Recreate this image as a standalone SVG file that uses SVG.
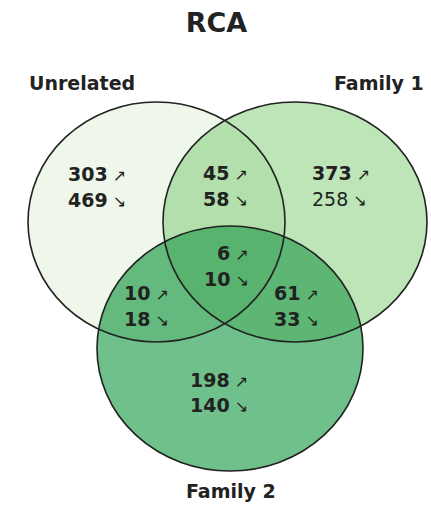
<svg xmlns="http://www.w3.org/2000/svg" width="431" height="507" viewBox="0 0 431 507">
<style>
.t{font-family:"DejaVu Sans","Liberation Sans",sans-serif;font-weight:bold;fill:#222}
.n{font-family:"DejaVu Sans","Liberation Sans",sans-serif;font-weight:bold;font-size:19px;fill:#222}
.ar{font-weight:normal;font-size:16px}
.nb{font-weight:normal}
.edge{fill:none;stroke:#222;stroke-width:1.6}
</style>
<defs>
<ellipse id="eU" cx="156.5" cy="222" rx="128.5" ry="120"/>
<ellipse id="eF1" cx="295" cy="222" rx="132" ry="120"/>
<ellipse id="eF2" cx="230" cy="348.5" rx="133" ry="122.5"/>
<clipPath id="cU"><use href="#eU"/></clipPath>
<clipPath id="cF1"><use href="#eF1"/></clipPath>
<clipPath id="cUF1" clip-path="url(#cU)"><use href="#eF1"/></clipPath>
</defs>
<rect width="431" height="507" fill="#fff"/>
<g id="fills">
<use href="#eU" fill="#eef7e9"/>
<use href="#eF1" fill="#bde5b8"/>
<use href="#eF1" fill="#b2dfab" clip-path="url(#cU)"/>
<use href="#eF2" fill="#6fc08a"/>
<use href="#eF2" fill="#64b97e" clip-path="url(#cU)"/>
<use href="#eF2" fill="#5db674" clip-path="url(#cF1)"/>
<use href="#eF2" fill="#57b36d" clip-path="url(#cUF1)"/>
</g>
<g id="connectors"></g>
<g id="unrelated">
<use href="#eU" class="edge"/>
<text class="t" x="29" y="90" font-size="19">Unrelated</text>
</g>
<g id="family1">
<use href="#eF1" class="edge"/>
<text class="t" x="334" y="90" font-size="19">Family 1</text>
</g>
<g id="family2">
<use href="#eF2" class="edge"/>
<text class="t" x="186" y="498" font-size="19">Family 2</text>
</g>
<g id="title">
<text class="t" x="216.5" y="32" font-size="27" text-anchor="middle">RCA</text>
</g>
<g id="counts">
<text class="n" x="68" y="181">303<tspan class="ar"> ↗</tspan></text>
<text class="n" x="68" y="207">469<tspan class="ar"> ↘</tspan></text>
<text class="n" x="203" y="180">45<tspan class="ar"> ↗</tspan></text>
<text class="n" x="203" y="206">58<tspan class="ar"> ↘</tspan></text>
<text class="n" x="312" y="180">373<tspan class="ar"> ↗</tspan></text>
<text class="n nb" x="312" y="206">258<tspan class="ar"> ↘</tspan></text>
<text class="n" x="217" y="260">6<tspan class="ar"> ↗</tspan></text>
<text class="n" x="204" y="286">10<tspan class="ar"> ↘</tspan></text>
<text class="n" x="124" y="300">10<tspan class="ar"> ↗</tspan></text>
<text class="n" x="124" y="326">18<tspan class="ar"> ↘</tspan></text>
<text class="n" x="274" y="300">61<tspan class="ar"> ↗</tspan></text>
<text class="n" x="274" y="326">33<tspan class="ar"> ↘</tspan></text>
<text class="n" x="190" y="387">198<tspan class="ar"> ↗</tspan></text>
<text class="n" x="190" y="412">140<tspan class="ar"> ↘</tspan></text>
</g>
</svg>
